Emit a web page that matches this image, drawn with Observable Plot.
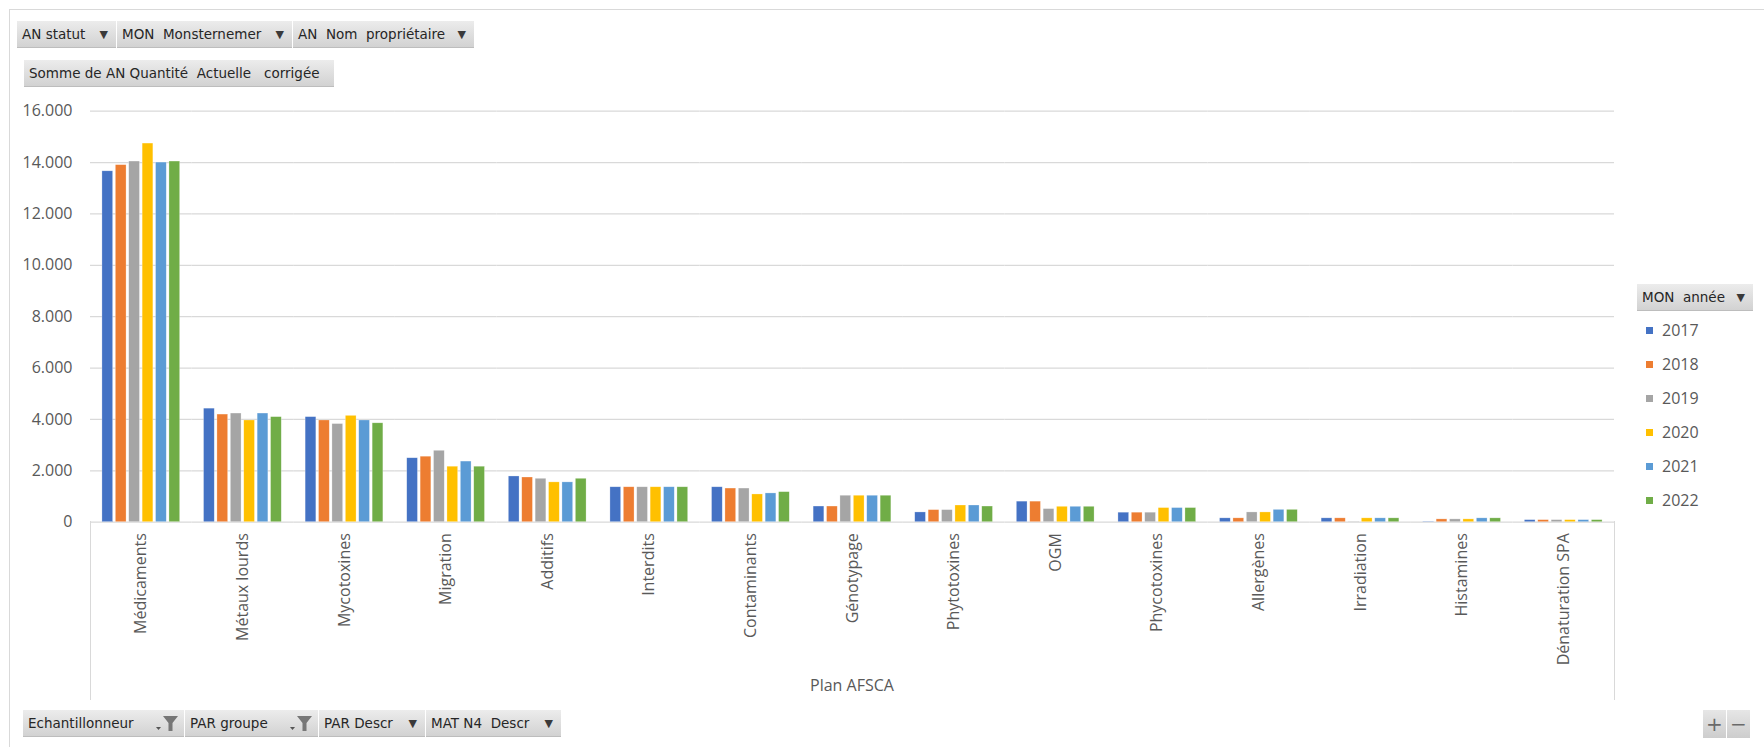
<!DOCTYPE html>
<html lang="fr">
<head>
<meta charset="utf-8">
<title>Plan AFSCA</title>
<script src="https://cdn.jsdelivr.net/npm/d3@7"></script>
<script src="https://cdn.jsdelivr.net/npm/@observablehq/plot@0.6"></script>
<style>
  html, body { margin: 0; padding: 0; background: #fff; }
  #page { position: relative; width: 1764px; height: 747px; overflow: hidden; background: #fff; }
  #chart { position: absolute; left: 0; top: 0; z-index: 1; }
  .edge { position: absolute; background: #d9d9d9; z-index: 0; }
  .btn {
    position: absolute; box-sizing: border-box; height: 27px;
    display: flex; align-items: center; justify-content: space-between;
    padding: 0 8px 0 5px; white-space: pre;
    font: 13.5px "DejaVu Sans", sans-serif; color: #262626;
    background: linear-gradient(#ececec, #d2d2d2);
    border-bottom: 1px solid #bdbdbd; z-index: 2;
  }
  .tri { font-size: 11px; color: #3a3a3a; margin-left: 6px; }
  .legend-item { position: absolute; left: 1646px; height: 20px; display: flex; align-items: center;
    font: 16px "Open Sans", sans-serif; color: #595959; z-index: 2; }
  .legend-item i { display: inline-block; width: 7px; height: 7px; margin-right: 9px; }
  #xtitle { position: absolute; left: 752px; width: 200px; top: 674px; text-align: center;
    font: 16px "Open Sans", sans-serif; color: #595959; z-index: 2; }
  .pm { position: absolute; top: 710px; height: 28px; width: 23px; box-sizing: border-box;
    background: linear-gradient(#e6e6e6, #cdcdcd); color: #6a6a6a;
    font: 20px "DejaVu Sans", sans-serif; display: flex; align-items: center; justify-content: center; z-index: 2; }
</style>
</head>
<body>
<div id="page">
  <!-- chart area border -->
  <div class="edge" style="left:9px; top:9px; width:1755px; height:1px;"></div>
  <div class="edge" style="left:9px; top:9px; width:1px; height:738px;"></div>
  <!-- category axis box sides -->
  <div class="edge" style="left:90px; top:521px; width:1px; height:179px;"></div>
  <div class="edge" style="left:1614px; top:521px; width:1px; height:179px;"></div>

  <div id="chart"></div>

  <!-- pivot field buttons -->
  <div class="btn" style="left:17px; top:21px; width:99px;">AN statut<span class="tri">▼</span></div>
  <div class="btn" style="left:117px; top:21px; width:175px;">MON  Monsternemer<span class="tri">▼</span></div>
  <div class="btn" style="left:293px; top:21px; width:181px;">AN  Nom  propriétaire<span class="tri">▼</span></div>
  <div class="btn" style="left:24px; top:60px; width:310px;">Somme de AN Quantité  Actuelle   corrigée</div>

  <div class="btn" style="left:1637px; top:284px; width:116px;">MON  année<span class="tri">▼</span></div>

  <div class="btn" style="left:23px; top:710px; width:161px; padding-right:5px;">Echantillonneur<svg width="24" height="18" viewBox="0 0 24 18"><path d="M1 13 L6 13 L3.5 16 Z" fill="#555"/><path d="M8 2 L23 2 L17.5 9 L17.5 17 L13.5 17 L13.5 9 Z" fill="#777"/></svg></div>
  <div class="btn" style="left:185px; top:710px; width:133px; padding-right:5px;">PAR groupe<svg width="24" height="18" viewBox="0 0 24 18"><path d="M1 13 L6 13 L3.5 16 Z" fill="#555"/><path d="M8 2 L23 2 L17.5 9 L17.5 17 L13.5 17 L13.5 9 Z" fill="#777"/></svg></div>
  <div class="btn" style="left:319px; top:710px; width:106px;">PAR Descr<span class="tri">▼</span></div>
  <div class="btn" style="left:426px; top:710px; width:135px;">MAT N4  Descr<span class="tri">▼</span></div>

  <div class="pm" style="left:1703px;">+</div>
  <div class="pm" style="left:1727px;">−</div>

  <div id="xtitle">Plan AFSCA</div>
  <div id="legend"></div>
</div>

<script>
// Categories of the AFSCA plan, in display order
const categories = [
  "Médicaments", "Métaux lourds", "Mycotoxines", "Migration", "Additifs",
  "Interdits", "Contaminants", "Génotypage", "Phytotoxines", "OGM",
  "Phycotoxines", "Allergènes", "Irradiation", "Histamines", "Dénaturation SPA"
];

// Years (series) and their colours
const years = ["2017", "2018", "2019", "2020", "2021", "2022"];
const yearColors = ["#4472C4", "#ED7D31", "#A5A5A5", "#FFC000", "#5B9BD5", "#70AD47"];

// Corrected current quantity, one value per category
const values2017 = [13660, 4420, 4090, 2490, 1780, 1360, 1360, 610, 380, 800, 370, 150, 150, 20, 80];
const values2018 = [13900, 4190, 3960, 2550, 1740, 1360, 1310, 610, 470, 800, 370, 150, 150, 110, 80];
const values2019 = [14040, 4230, 3820, 2780, 1690, 1360, 1310, 1030, 470, 510, 370, 380, 20, 110, 80];
const values2020 = [14740, 3960, 4140, 2160, 1550, 1360, 1080, 1030, 650, 600, 550, 380, 150, 110, 80];
const values2021 = [14000, 4230, 3960, 2360, 1550, 1360, 1120, 1030, 650, 600, 550, 480, 150, 150, 80];
const values2022 = [14040, 4090, 3850, 2160, 1690, 1360, 1170, 1030, 610, 600, 550, 480, 150, 150, 80];

// Value axis ticks
const yTicks = [0, 2000, 4000, 6000, 8000, 10000, 12000, 14000, 16000];

const series = [values2017, values2018, values2019, values2020, values2021, values2022];
const rows = categories.flatMap((cat, i) =>
  years.map((year, j) => ({cat, year, value: series[j][i]}))
);

// Belgian-style thousands separator: 16.000
const fmt = d3.formatLocale({decimal: ",", thousands: ".", grouping: [3], currency: ["", " €"]}).format(",d");

const chart = Plot.plot({
  width: 1764,
  height: 747,
  marginLeft: 90,
  marginRight: 150,
  marginTop: 110.7,
  marginBottom: 225.3,
  style: {fontFamily: "'Open Sans', sans-serif", fontSize: "16px", color: "#595959", background: "transparent"},
  fx: {domain: categories, padding: 0, round: false, axis: "bottom", tickRotate: -90, tickSize: 0, tickPadding: 11, label: null},
  x: {domain: years, paddingInner: 0.2, paddingOuter: 0.89, round: false, axis: null},
  y: {domain: [0, 16000], ticks: yTicks, tickFormat: fmt, tickSize: 0, tickPadding: 18, label: null},
  color: {domain: years, range: yearColors},
  marks: [
    Plot.gridY(yTicks, {stroke: "#d9d9d9", strokeOpacity: 1, strokeWidth: 1.2}),
    Plot.barY(rows, {fx: "cat", x: "year", y: "value", fill: "year",
      stroke: "#ffffff", strokeOpacity: 0.45, strokeWidth: 0.6})
  ]
});
document.getElementById("chart").appendChild(chart);

// Year legend
const legend = document.getElementById("legend");
years.forEach((year, i) => {
  const item = document.createElement("div");
  item.className = "legend-item";
  item.style.top = (320 + i * 34) + "px";
  const sw = document.createElement("i");
  sw.style.background = yearColors[i];
  item.appendChild(sw);
  item.appendChild(document.createTextNode(year));
  legend.appendChild(item);
});
</script>
</body>
</html>
